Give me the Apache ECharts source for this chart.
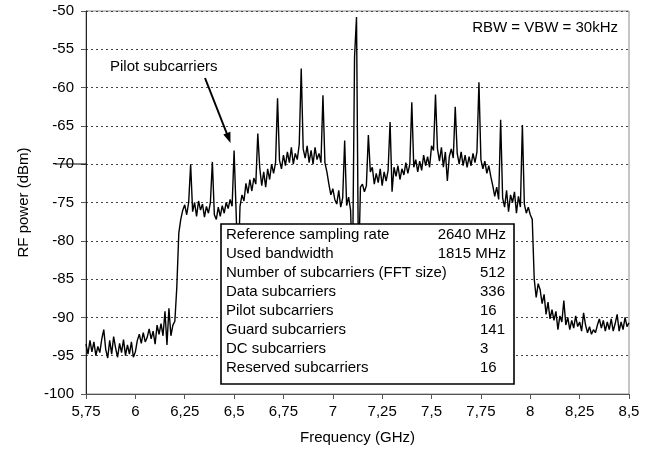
<!DOCTYPE html>
<html>
<head>
<meta charset="utf-8">
<script src="https://cdn.jsdelivr.net/npm/echarts@6/dist/echarts.min.js"></script>
<style>html,body{margin:0;padding:0;background:#fff}#c{width:662px;height:450px}</style>
</head>
<body>
<div id="c"></div>
<script>
// Spectrum sampling grid (GHz)
var freqStart = 5.75;
var freqStep = 0.01;
// Measured RF power (dBm), one value per grid point from 5.75 to 8.50 GHz
var powerDbm = [
  -93.5,-94.8,-93.0,-94.5,-93.2,-95.0,-93.8,-94.6,-92.8,-91.6,
  -94.2,-95.3,-93.0,-94.8,-92.5,-94.0,-95.2,-93.4,-94.6,-92.9,
  -95.0,-93.6,-94.8,-93.2,-95.2,-94.5,-93.0,-92.2,-93.4,-92.0,
  -93.2,-92.6,-91.5,-92.8,-91.8,-93.5,-91.0,-92.2,-90.8,-92.4,
  -89.2,-93.6,-88.8,-92.4,-91.0,-90.5,-86.0,-79.0,-77.2,-76.0,
  -75.3,-76.6,-75.0,-70.0,-76.2,-75.0,-76.8,-74.8,-76.0,-75.2,
  -76.9,-75.5,-76.4,-75.0,-69.7,-76.6,-77.2,-75.6,-76.8,-75.4,
  -76.4,-75.0,-75.8,-74.6,-75.5,-68.2,-76.0,-84.0,-75.5,-74.0,
  -74.8,-72.5,-73.8,-72.0,-73.5,-71.8,-72.6,-66.0,-70.5,-72.8,
  -71.0,-73.0,-70.6,-72.0,-70.0,-71.2,-69.8,-61.4,-69.5,-70.6,
  -68.8,-70.2,-68.4,-69.8,-67.8,-70.0,-68.6,-69.4,-67.4,-57.5,
  -68.0,-69.2,-67.6,-69.8,-68.2,-70.0,-67.8,-69.4,-68.6,-69.8,
  -61.0,-69.8,-71.0,-72.6,-74.0,-73.2,-74.6,-75.2,-73.4,-75.6,
  -74.4,-66.9,-75.4,-74.3,-76.0,-84.0,-56.0,-50.8,-84.0,-73.0,
  -72.6,-73.6,-72.8,-66.2,-71.0,-70.4,-72.6,-71.2,-72.4,-70.6,
  -72.8,-71.0,-72.2,-70.8,-64.5,-73.6,-70.4,-71.6,-70.2,-72.0,
  -70.6,-71.4,-69.8,-71.2,-70.0,-61.9,-70.4,-69.4,-71.0,-69.6,
  -70.8,-68.8,-70.2,-69.0,-70.4,-67.6,-68.2,-60.9,-68.0,-69.6,
  -67.8,-70.4,-68.4,-72.2,-69.0,-68.0,-69.2,-62.5,-68.6,-70.0,
  -68.4,-70.2,-68.8,-70.4,-69.0,-70.2,-68.6,-69.8,-68.4,-59.3,
  -69.4,-70.6,-69.6,-71.2,-70.2,-71.6,-72.8,-74.2,-73.0,-74.6,
  -64.2,-74.4,-75.6,-73.4,-76.2,-74.0,-75.0,-73.6,-76.4,-74.2,
  -75.6,-64.9,-75.2,-76.4,-75.6,-76.6,-77.2,-85.0,-87.4,-85.6,
  -86.4,-88.2,-87.0,-89.6,-88.0,-90.2,-89.0,-90.4,-89.2,-91.6,
  -89.8,-90.6,-87.8,-91.0,-90.0,-91.6,-90.4,-91.4,-89.8,-91.2,
  -90.6,-91.8,-89.4,-91.0,-92.0,-91.2,-92.2,-91.6,-92.0,-91.0,
  -90.2,-91.4,-90.4,-91.8,-90.6,-91.6,-90.2,-91.8,-90.8,-89.6,
  -91.8,-90.6,-91.6,-90.0,-91.2,-90.7
];
// Axis settings
var xMin = 5.75, xMax = 8.5, xInterval = 0.25;
var yMin = -100, yMax = -50, yInterval = 5;
// Texts
var xAxisTitle = 'Frequency (GHz)';
var yAxisTitle = 'RF power (dBm)';
var noteText = 'RBW = VBW = 30kHz';
var arrowText = 'Pilot subcarriers';
// Inset table
var tableLabels = ['Reference sampling rate','Used bandwidth','Number of subcarriers (FFT size)','Data subcarriers','Pilot subcarriers','Guard subcarriers','DC subcarriers','Reserved subcarriers'];
var tableValues = ['2640 MHz','1815 MHz','512','336','16','141','3','16'];

var FONT = '"Liberation Sans", Arial, Helvetica, sans-serif';
var seriesData = powerDbm.map(function(v, i){ return [+(freqStart + i*freqStep).toFixed(4), v]; });

function comma(v){ return String(v).replace('.', ','); }

var G = {left:86, top:11, right:629, bottom:394};

var graphics = [];
// table box
var tb = {x:221, y:224, w:293, h:160};
graphics.push({type:'rect', z:100, shape:{x:tb.x, y:tb.y, width:tb.w, height:tb.h},
  style:{fill:'#fff', stroke:'#000', lineWidth:1.6}});
tableLabels.forEach(function(t, i){
  var cy = 235 + i*18.95;
  graphics.push({type:'text', z:101, x:226, y:cy, style:{text:t, font:'15px '+FONT, fill:'#000', textAlign:'left', textVerticalAlign:'middle'}});
  var v = tableValues[i];
  var isUnit = v.indexOf('MHz') >= 0;
  graphics.push({type:'text', z:101, x:isUnit?506:480, y:cy, style:{text:v, font:'15px '+FONT, fill:'#000', textAlign:isUnit?'right':'left', textVerticalAlign:'middle'}});
});
// note
graphics.push({type:'text', z:101, x:618, y:28, style:{text:noteText, font:'15px '+FONT, fill:'#000', textAlign:'right', textVerticalAlign:'middle'}});
// arrow annotation
graphics.push({type:'text', z:101, x:110, y:67, style:{text:arrowText, font:'15px '+FONT, fill:'#000', textAlign:'left', textVerticalAlign:'middle'}});
graphics.push({type:'line', z:101, shape:{x1:205, y1:78, x2:227, y2:134}, style:{stroke:'#000', lineWidth:2}});
graphics.push({type:'polygon', z:101, shape:{points:[[230.5,143],[223.3,134.6],[230.4,131.8]]}, style:{fill:'#000'}});
// stray tick at -70 on left
graphics.push({type:'line', z:101, shape:{x1:55, y1:164, x2:86, y2:164}, style:{stroke:'#000', lineWidth:1}});

var chart = echarts.init(document.getElementById('c'), null, {renderer:'canvas'});
chart.setOption({
  animation:false,
  backgroundColor:'#fff',
  grid:{left:G.left, top:G.top, right:662-G.right, bottom:450-G.bottom, show:true, borderColor:'#8a8a8a', borderWidth:1, backgroundColor:'transparent'},
  xAxis:{type:'value', min:xMin, max:xMax, interval:xInterval,
    name:xAxisTitle, nameLocation:'middle', nameGap:36,
    nameTextStyle:{fontFamily:FONT, fontSize:15, color:'#000'},
    axisLine:{show:true, onZero:false, lineStyle:{color:'#555', width:1}},
    axisTick:{show:true, inside:false, length:5, lineStyle:{color:'#555'}},
    axisLabel:{margin:10, fontFamily:FONT, fontSize:15, color:'#000', formatter:function(v){return comma(v);}},
    splitLine:{show:false}},
  yAxis:{type:'value', min:yMin, max:yMax, interval:yInterval,
    name:yAxisTitle, nameLocation:'middle', nameGap:55, nameRotate:90,
    nameTextStyle:{fontFamily:FONT, fontSize:15, color:'#000'},
    axisLine:{show:true, onZero:false, lineStyle:{color:'#222', width:1}},
    axisTick:{show:true, inside:false, length:5, lineStyle:{color:'#555'}},
    axisLabel:{margin:12, fontFamily:FONT, fontSize:15, color:'#000'},
    splitLine:{show:true, lineStyle:{color:'#444', width:1, type:[2,3]}}},
  series:[{type:'line', data:seriesData, showSymbol:false, symbol:'none', z:5,
    lineStyle:{color:'#000', width:1.4}, silent:true}],
  graphic:graphics
});
</script>
</body>
</html>
